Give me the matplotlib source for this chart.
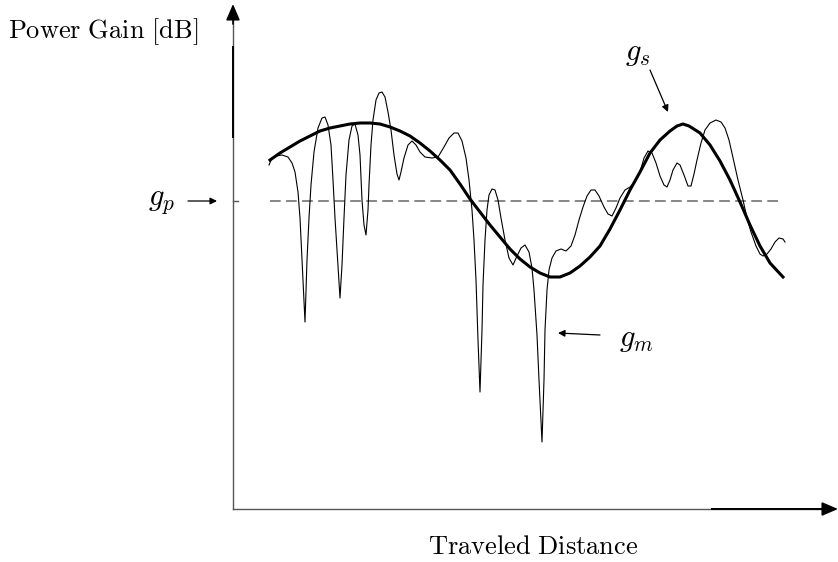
import matplotlib
matplotlib.use("Agg")
import matplotlib.pyplot as plt

plt.rcParams["mathtext.fontset"] = "cm"

# shadowed (slow-fading) gain g_s: distance vs gain, arbitrary units
gs_dist = [37, 47, 57, 67, 77, 87, 97, 107, 117, 127, 137, 147, 157, 167, 177,
           187, 197, 207, 217, 227, 237, 247, 257, 267, 277, 287, 297, 307, 317,
           327, 337, 347, 357, 367, 377, 387, 397, 407, 417, 427, 437, 444, 450,
           456, 467, 477, 487, 497, 507, 517, 527, 537, 550]
gs_gain = [349, 356, 362, 368, 373, 378, 381, 383, 385, 386, 386, 385, 382, 378,
           373, 366, 358, 349, 339, 325, 310, 297, 284, 272, 260, 250, 242, 236,
           232, 232, 236, 243, 252, 263, 280, 299, 319, 337, 356, 369, 378, 383,
           385, 383, 376, 364, 348, 329, 307, 284, 263, 246, 232]

# multipath gain g_m
gm_dist = [36, 39, 43, 49, 55, 59, 62, 65, 67, 69, 72, 74, 76, 78, 81, 85, 89,
           92, 95, 98, 100, 102, 105, 107, 109, 111, 113, 116, 119, 122, 125,
           127, 129, 131, 133, 135, 136, 138, 140, 143, 146, 149, 152, 155, 158,
           161, 164, 166, 168, 171, 175, 179, 183, 187, 192, 199, 205, 211, 216,
           221, 225, 229, 233, 236, 239, 241, 243, 245, 247, 249, 250, 252, 254,
           256, 259, 262, 265, 268, 272, 276, 280, 284, 288, 292, 296, 299, 301,
           304, 306, 309, 311, 312, 314, 316, 319, 323, 328, 333, 338, 342, 346,
           350, 354, 358, 362, 366, 371, 375, 379, 383, 387, 392, 397, 402, 407,
           411, 415, 419, 423, 427, 431, 434, 437, 440, 444, 447, 451, 455, 458,
           461, 464, 468, 472, 477, 483, 488, 492, 496, 500, 505, 510, 514, 518,
           523, 527, 530, 534, 538, 542, 546, 550, 552]
gm_gain = [344, 351, 353, 354, 352, 346, 337, 317, 291, 249, 187, 249, 291, 324,
           357, 381, 391, 392, 384, 364, 329, 291, 244, 211, 244, 291, 334, 369,
           383, 385, 374, 354, 309, 284, 274, 299, 324, 364, 389, 409, 416, 417,
           412, 397, 379, 354, 335, 329, 337, 351, 364, 368, 364, 357, 352, 351,
           352, 362, 371, 376, 376, 368, 351, 329, 299, 269, 229, 169, 117, 179,
           224, 269, 299, 314, 320, 319, 309, 291, 269, 251, 244, 253, 261, 264,
           257, 241, 219, 174, 129, 67, 129, 179, 219, 239, 251, 258, 260, 258,
           263, 274, 289, 302, 313, 319, 319, 313, 302, 295, 293, 301, 311, 319,
           322, 327, 337, 351, 358, 356, 346, 333, 324, 322, 329, 339, 346, 344,
           334, 323, 323, 335, 349, 366, 379, 386, 389, 387, 381, 369, 351, 329,
           309, 291, 277, 263, 255, 253, 255, 260, 267, 271, 270, 267]

# path-loss level g_p
gp_level = 308
gp_span = [37, 550]

fig = plt.figure(figsize=(8.38, 5.62), dpi=100)
ax = fig.add_axes([0, 0, 1, 1])
ax.set_xlim(-233, 605)
ax.set_ylim(-53, 509)
ax.axis("off")

# axes with arrow heads
ax.plot([0, 0], [0, 495], color="#555555", lw=1.0)
ax.plot([0, 0], [372, 462], color="black", lw=1.4)
ax.plot([0, 597], [0, 0], color="#555555", lw=1.0)
ax.plot([479, 597], [0, 0], color="black", lw=1.4)
head = dict(arrowstyle="-|>,head_length=0.7,head_width=0.3", color="black",
            lw=1.2, mutation_scale=14, shrinkA=0, shrinkB=0)
ax.annotate("", xy=(0, 505), xytext=(0, 485), arrowprops=head,
            annotation_clip=False)
ax.annotate("", xy=(605, 0), xytext=(585, 0), arrowprops=head,
            annotation_clip=False)

# g_p tick on the axis
ax.plot([0, 5], [gp_level, gp_level], color="#555555", lw=1.0)

ax.plot(gp_span, [gp_level, gp_level], color="#666666", lw=1.1,
        dashes=(7, 3.5))
ax.plot(gm_dist, gm_gain, color="black", lw=0.8)
ax.plot(gs_dist, gs_gain, color="black", lw=2.2)

arrow = dict(arrowstyle="-|>", color="black", lw=0.9, mutation_scale=10,
             shrinkA=0, shrinkB=0)
ax.annotate("", xy=(-16, gp_level), xytext=(-45, gp_level), arrowprops=arrow)
ax.annotate("", xy=(435, 397), xytext=(417, 439), arrowprops=arrow)
ax.annotate("", xy=(325, 176), xytext=(367, 174), arrowprops=arrow)

ax.text(-71, gp_level, r"$g_p$", fontsize=22, ha="center", va="center")
ax.text(405, 456, r"$g_s$", fontsize=22, ha="center", va="center")
ax.text(403, 169, r"$g_m$", fontsize=22, ha="center", va="center")

ax.text(-225, 477, r"$\mathrm{Power\ Gain\ [dB]}$", fontsize=19,
        ha="left", va="center")
ax.text(300, -38, r"$\mathrm{Traveled\ Distance}$", fontsize=19,
        ha="center", va="center")

fig.savefig("out.png", dpi=100)
